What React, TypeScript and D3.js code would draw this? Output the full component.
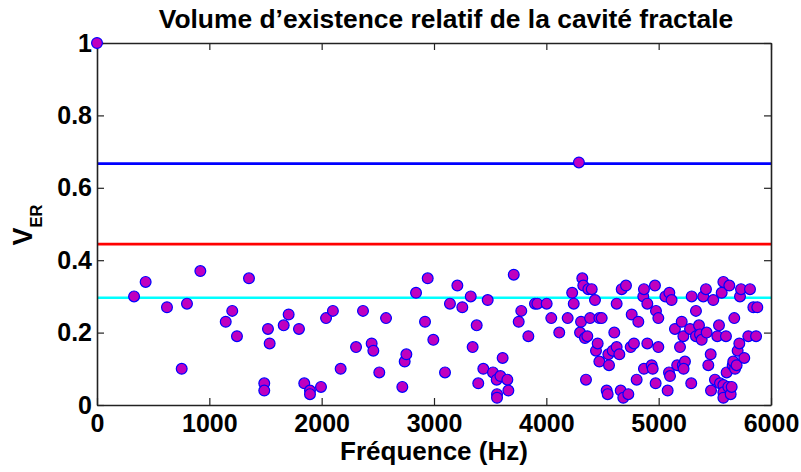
import * as d3 from "d3";
import { useEffect, useRef } from "react";

const W = 801;
const H = 472;

// frequency (Hz) and relative existence volume
const freq = [
  0, 330, 433, 623, 754, 801, 920, 1146, 1204, 1246, 1353, 1489, 1489, 1522,
  1537, 1662, 1706, 1798, 1845, 1896, 1896, 1994, 2039, 2100, 2169, 2306, 2368,
  2445, 2460, 2513, 2573, 2718, 2739, 2754, 2840, 2920, 2944, 2994, 3098, 3142,
  3208, 3252, 3327, 3344, 3380, 3394, 3439, 3478, 3525, 3558, 3561, 3561, 3591,
  3611, 3653, 3662, 3710, 3754, 3777, 3840, 3899, 3920, 4003, 4044, 4115, 4190,
  4230, 4244, 4290, 4300, 4309, 4320, 4329, 4344, 4353, 4365, 4374, 4389, 4404,
  4433, 4442, 4457, 4472, 4472, 4493, 4537, 4546, 4552, 4558, 4591, 4605, 4626,
  4626, 4650, 4662, 4671, 4685, 4709, 4730, 4751, 4760, 4780, 4804, 4819, 4863,
  4869, 4869, 4899, 4899, 4938, 4947, 4967, 4973, 4976, 4997, 4997, 5060, 5095,
  5115, 5080, 5092, 5101, 5165, 5145, 5190, 5215, 5234, 5222, 5205, 5220, 5279,
  5290, 5294, 5332, 5332, 5359, 5368, 5383, 5397, 5421, 5427, 5442, 5463, 5466,
  5486, 5501, 5522, 5537, 5546, 5561, 5576, 5576, 5576, 5576, 5599, 5605, 5620,
  5629, 5641, 5650, 5659, 5664, 5673, 5680, 5694, 5703, 5718, 5724, 5733, 5762,
  5798, 5813, 5843, 5867, 5878,
];
const ver = [
  1.0, 0.3, 0.34, 0.27, 0.1, 0.28, 0.37, 0.23, 0.26, 0.19, 0.35, 0.06, 0.04,
  0.21, 0.17, 0.22, 0.25, 0.21, 0.06, 0.04, 0.03, 0.05, 0.24, 0.26, 0.1, 0.16,
  0.26, 0.17, 0.15, 0.09, 0.24, 0.05, 0.12, 0.14, 0.31, 0.23, 0.35, 0.18, 0.09,
  0.28, 0.33, 0.27, 0.3, 0.16, 0.22, 0.06, 0.1, 0.29, 0.09, 0.07, 0.03, 0.02,
  0.08, 0.13, 0.07, 0.04, 0.36, 0.23, 0.26, 0.19, 0.28, 0.28, 0.28, 0.24, 0.2,
  0.24, 0.31, 0.28, 0.67, 0.2, 0.23, 0.35, 0.33, 0.185, 0.07, 0.19, 0.32, 0.24,
  0.32, 0.29, 0.15, 0.17, 0.12, 0.24, 0.24, 0.04, 0.03, 0.14, 0.11, 0.15, 0.2,
  0.16, 0.28, 0.14, 0.04, 0.32, 0.02, 0.33, 0.03, 0.16, 0.25, 0.17, 0.07, 0.23,
  0.3, 0.32, 0.1, 0.28, 0.17, 0.11, 0.1, 0.33, 0.06, 0.26, 0.24, 0.16, 0.3,
  0.31, 0.29, 0.04, 0.09, 0.08, 0.11, 0.21, 0.16, 0.11, 0.12, 0.1, 0.23, 0.19,
  0.21, 0.06, 0.3, 0.26, 0.19, 0.22, 0.195, 0.18, 0.3, 0.32, 0.2, 0.11, 0.14,
  0.04, 0.29, 0.07, 0.19, 0.22, 0.06, 0.31, 0.34, 0.055, 0.035, 0.02, 0.19,
  0.09, 0.05, 0.33, 0.03, 0.05, 0.11, 0.12, 0.24, 0.1, 0.11, 0.15, 0.17, 0.3,
  0.32, 0.13, 0.19, 0.32, 0.27, 0.19, 0.27,
];

// reference levels (2/3)^n
const levels = [2 / 3, 4 / 9, 8 / 27];
const levelColors = ["#0000ff", "#ff0000", "#00ffff"];

const xTicks = [0, 1000, 2000, 3000, 4000, 5000, 6000];
const yTicks = [0, 0.2, 0.4, 0.6, 0.8, 1];

export default function App() {
  const svgRef = useRef<SVGSVGElement>(null);

  useEffect(() => {
    if (!svgRef.current) return;
    const svg = d3.select(svgRef.current);
    svg.selectAll("*").remove();

    const left = 97,
      right = 771,
      top = 43,
      bottom = 405;

    const x = d3.scaleLinear().domain([0, 6000]).range([left, right]);
    const y = d3.scaleLinear().domain([0, 1]).range([bottom, top]);

    svg.append("rect").attr("width", W).attr("height", H).attr("fill", "white");

    const font = "'Liberation Sans', Arial, Helvetica, sans-serif";

    // reference lines
    svg
      .selectAll(".level")
      .data(levels)
      .enter()
      .append("line")
      .attr("x1", x(0))
      .attr("x2", x(6000))
      .attr("y1", (d) => y(d))
      .attr("y2", (d) => y(d))
      .attr("stroke", (_, i) => levelColors[i])
      .attr("stroke-width", 2.6);

    // axes
    const styleAxis = (g: any) => {
      g.selectAll(".domain").attr("stroke", "#222").attr("stroke-width", 1.6);
      g.selectAll(".tick line").attr("stroke", "#222").attr("stroke-width", 1.2);
      g.selectAll("text")
        .attr("fill", "#000")
        .style("font-family", font)
        .style("font-weight", "bold")
        .style("font-size", "25px");
    };

    svg
      .append("g")
      .attr("transform", `translate(0,${bottom})`)
      .call(
        d3
          .axisBottom(x)
          .tickValues(xTicks)
          .tickSizeInner(-7)
          .tickSizeOuter(0)
          .tickPadding(9)
          .tickFormat((d) => String(d)),
      )
      .call(styleAxis);

    svg
      .append("g")
      .attr("transform", `translate(0,${top})`)
      .call(
        d3
          .axisTop(x)
          .tickValues(xTicks)
          .tickSizeInner(-7)
          .tickSizeOuter(0)
          .tickFormat(() => ""),
      )
      .call(styleAxis);

    svg
      .append("g")
      .attr("transform", `translate(${left},0)`)
      .call(
        d3
          .axisLeft(y)
          .tickValues(yTicks)
          .tickSizeInner(-7)
          .tickSizeOuter(0)
          .tickPadding(5)
          .tickFormat((d) => String(d)),
      )
      .call(styleAxis);

    svg
      .append("g")
      .attr("transform", `translate(${right},0)`)
      .call(
        d3
          .axisRight(y)
          .tickValues(yTicks)
          .tickSizeInner(-7)
          .tickSizeOuter(0)
          .tickFormat(() => ""),
      )
      .call(styleAxis);

    // points
    svg
      .append("g")
      .selectAll("circle")
      .data(d3.range(freq.length))
      .enter()
      .append("circle")
      .attr("cx", (i) => x(freq[i]))
      .attr("cy", (i) => y(ver[i]))
      .attr("r", 5.4)
      .attr("fill", "#bf00bf")
      .attr("stroke", "#0000ff")
      .attr("stroke-width", 1.2);

    // title
    svg
      .append("text")
      .attr("x", 446)
      .attr("y", 28)
      .attr("text-anchor", "middle")
      .style("font-family", font)
      .style("font-weight", "bold")
      .style("font-size", "26.4px")
      .text("Volume d\u2019existence relatif de la cavité fractale");

    // x label
    svg
      .append("text")
      .attr("x", (left + right) / 2)
      .attr("y", 460)
      .attr("text-anchor", "middle")
      .style("font-family", font)
      .style("font-weight", "bold")
      .style("font-size", "26px")
      .text("Fréquence (Hz)");

    // y label V_ER
    const yl = svg
      .append("text")
      .attr("transform", "translate(32,225) rotate(-90)")
      .attr("text-anchor", "middle")
      .style("font-family", font)
      .style("font-weight", "bold")
      .style("font-size", "27px");
    yl.append("tspan").text("V");
    yl.append("tspan").attr("dy", 10).style("font-size", "16.5px").text("ER");
  }, []);

  return (
    <svg
      ref={svgRef}
      width={W}
      height={H}
      style={{ position: "absolute", left: 0, top: 0 }}
    />
  );
}
